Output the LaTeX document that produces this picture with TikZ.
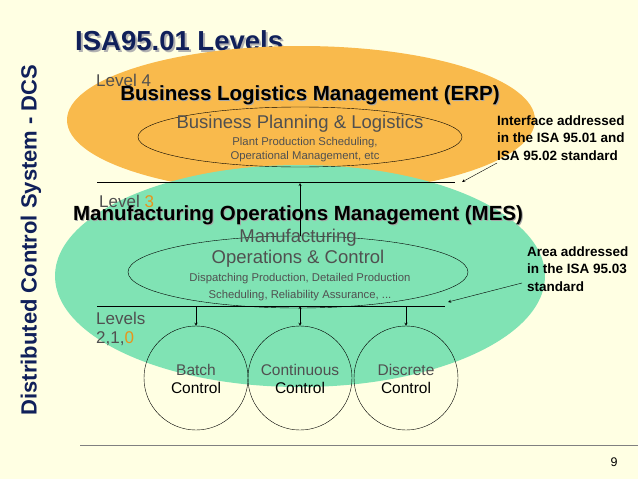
\documentclass[tikz,border=0pt]{standalone}
\usepackage{fontspec}
\setmainfont{Liberation Sans}
\begin{document}
\begin{tikzpicture}[x=1pt,y=-1pt,
 txt/.style={inner sep=0pt,anchor=center},
 hd/.style={txt,font=\bfseries\fontsize{20.5}{22}\selectfont,text=black},
 ann/.style={inner sep=0pt,anchor=west,align=left,font=\bfseries\fontsize{13.5}{17.5}\selectfont},
 lvtx/.style={txt,anchor=west,font=\fontsize{17}{19}\selectfont,text=gtx},
 big/.style={txt,font=\fontsize{18.5}{20}\selectfont,text=gtx},
 small/.style={txt,font=\fontsize{11.3}{13}\selectfont,text=gtx},
 arr/.style={-stealth,thin}]
\definecolor{bg}{HTML}{FFFFE3}
\definecolor{orng}{HTML}{F9BA4C}
\definecolor{grn}{HTML}{80E3B4}
\definecolor{navy}{HTML}{10205A}
\definecolor{gtx}{HTML}{505050}
\definecolor{lvl}{HTML}{E8941A}
\fill[bg] (0,0) rectangle (638,479);
\useasboundingbox (0,0) rectangle (638,479);
\node[rotate=90,txt,font=\bfseries\fontsize{22}{24}\selectfont,text=navy] (side) at (31,240) {Distributed Control System - DCS};
\node[txt,anchor=west,font=\bfseries\fontsize{27.5}{30}\selectfont,text=gray!60] at (77,43) {ISA95.01 Levels};
\node[txt,anchor=west,font=\bfseries\fontsize{27.5}{30}\selectfont,text=navy] (title) at (75,41) {ISA95.01 Levels};
\fill[orng] (301,120) ellipse [x radius=234,y radius=74];
\fill[grn] (300,276) ellipse [x radius=245,y radius=111];
\draw (300,137) ellipse [x radius=162,y radius=30];
\node[big] (bp) at (300,124) {Business Planning \& Logistics};
\node[small] (bp1) at (305,143) {Plant Production Scheduling,};
\node[small] (bp2) at (305,157) {Operational Management, etc};
\coordinate (l1a) at (97,182); \coordinate (l1b) at (455,182);
\draw (l1a) -- (l1b);
\node[lvtx] (lv4) at (96,80) {Level 4};
\node[hd,text=gray!70] at (311,96) {Business Logistics Management (ERP)};
\node[hd] (erp) at (310,95) {Business Logistics Management (ERP)};
\node[lvtx] (lv3) at (99,201) {Level \textcolor{lvl}{3}};
\node[hd,text=gray!70] at (299,216) {Manufacturing Operations Management (MES)};
\node[hd] (mes) at (298,215) {Manufacturing Operations Management (MES)};
\draw (298,272) ellipse [x radius=170,y radius=36];
\coordinate (e2t) at (300,236);
\node[big] (m1) at (298,238) {Manufacturing};
\node[big] (m2) at (298,259) {Operations \& Control};
\node[small] (m3) at (300,279) {Dispatching Production, Detailed Production};
\node[small] (m4) at (300,296) {Scheduling, Reliability Assurance, ...};
\coordinate (l2a) at (97,306); \coordinate (l2b) at (445,306);
\draw (l2a) -- (l2b);
\coordinate (up) at (300,183);
\draw[arr] (e2t) -- (up);
\node[lvtx] (lv2) at (96,318) {Levels};
\node[lvtx] (lv2b) at (96,339) {2,1,\textcolor{lvl}{0}};
\foreach \n/\x/\a/\b in {c1/196/Batch/Control,c2/300/Continuous/Control,c3/406/Discrete/Control}{
  \node[draw,circle,minimum size=104pt,inner sep=0pt] (\n) at (\x,378) {};
  \node[txt,font=\fontsize{15.5}{17}\selectfont,text=gtx] at (\x,370) {\a};
  \node[txt,font=\fontsize{15.5}{17}\selectfont] at (\x,388) {\b};
}
\coordinate (c1s) at (196,306); \coordinate (c2s) at (300,306); \coordinate (c3s) at (406,306);
\draw[arr] (c1s) -- (c1.north);
\draw[stealth-stealth,thin] (c2s) -- (c2.north);
\draw[arr] (c3s) -- (c3.north);
\node[ann] (a1) at (497,138) {Interface addressed\\in the ISA 95.01 and\\ISA 95.02 standard};
\coordinate (a1s) at (497,163); \coordinate (a1e) at (462,182);
\draw[arr] (a1s) -- (a1e);
\node[ann] (a2) at (527,269) {Area addressed\\in the ISA 95.03\\standard};
\coordinate (a2s) at (522,283); \coordinate (a2e) at (448,302);
\draw[arr] (a2s) -- (a2e);
\coordinate (b1) at (80,445); \coordinate (b2) at (638,445);
\draw[gray] (b1) -- (b2);
\node[txt,font=\fontsize{12.5}{14}\selectfont] (pg) at (614,462) {9};
\end{tikzpicture}
\end{document}
